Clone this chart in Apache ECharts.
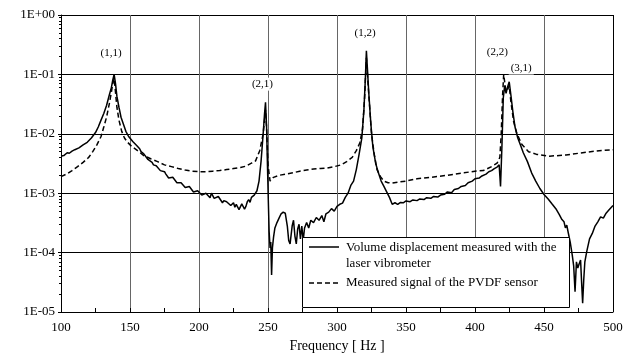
<!DOCTYPE html>
<html>
<head>
<meta charset="utf-8">
<script src="https://cdn.jsdelivr.net/npm/echarts@6/dist/echarts.min.js"></script>
<style>
html,body{margin:0;padding:0;background:#fff;}
#c{width:634px;height:360px;}
</style>
</head>
<body>
<div id="c"></div>
<script>
// ---- data ----
const seriesNames = ['Volume displacement measured with the\nlaser vibrometer', 'Measured signal of the PVDF sensor'];
const xTicks = [100, 150, 200, 250, 300, 350, 400, 450, 500];
const yTickLabels = ['1E-05', '1E-04', '1E-03', '1E-02', '1E-01', '1E+00'];
const xName = 'Frequency [ Hz ]';

const laserFreq = [100,102,103,104.5,106,108,110,113,116,119,122,125,127,129,131,133,135,136.5,137.5,138.5,139.5,140.5,142,143.5,145,147,149,152,155,157,158,160,161,163,164,166,167,169,170,172,173,175,176,178,179,181,182,184,185,187,188,190,191,193,194,196,197,199,200,202,203,205,206,208,209,211,212,214,215,217,218,220,221,223,224,225,226,227,228,229,230,231,232,233,234,235,236,237,238,239,240,241,242,243.5,245,246.5,247.5,248.2,249,249.6,250.2,250.8,251.5,252,252.6,253.2,254,255,256.5,258,259.5,261,262.5,264,265,266,267.5,268.5,269.5,270.5,271.5,272.5,273.5,274.5,275.5,276.5,278,279.5,281,283,285,287,289,290.5,292,294,296,298,300,302,304,306,308,310,312,314,316,318,319.5,320.5,321.3,322,323,324.5,326,328,330,332,334,336,338,340,342,344,346,348,350,353,355,358,360,363,365,368,370,373,375,378,380,383,385,388,390,393,395,398,400,403,405,408,410,412,414,416,417.5,418.5,419.5,420.5,421.5,422.5,423.5,424.8,426,427.5,429,431,433,435,438,441,444,447,450,453,456,459,461,463,464.5,465.5,466.5,467.5,469,470.5,471.5,472.5,473.5,474.5,475.5,476.5,477.3,478,478.8,479.6,481,483,485,487,489,491,493,495,497,500];
const laserVal = [4.2e-3,4.3e-3,4.5e-3,4.8e-3,4.7e-3,5.1e-3,5.4e-3,5.8e-3,6.5e-3,7.2e-3,8.5e-3,1.05e-2,1.3e-2,1.7e-2,2.2e-2,3.0e-2,4.5e-2,6.0e-2,8.0e-2,1.0e-1,7.0e-2,4.3e-2,2.8e-2,1.9e-2,1.5e-2,1.1e-2,9.0e-3,7.4e-3,6.3e-3,5.6e-3,5.0e-3,4.6e-3,4.3e-3,3.7e-3,3.6e-3,3.3e-3,3.0e-3,2.9e-3,2.7e-3,2.4e-3,2.4e-3,2.3e-3,2.1e-3,1.8e-3,1.9e-3,1.85e-3,1.75e-3,1.5e-3,1.55e-3,1.5e-3,1.45e-3,1.25e-3,1.3e-3,1.3e-3,1.25e-3,1.05e-3,1.1e-3,1.1e-3,1.05e-3,9.3e-4,1.0e-3,1.0e-3,9.5e-4,8.4e-4,1.0e-3,8.2e-4,8.5e-4,8.8e-4,8.2e-4,6.9e-4,7.5e-4,7.2e-4,6.8e-4,6.2e-4,6.5e-4,6.9e-4,5.8e-4,6.5e-4,6.2e-4,5.3e-4,5.6e-4,6.6e-4,6.4e-4,5.4e-4,6.0e-4,7.2e-4,7.8e-4,7.0e-4,8.5e-4,8.0e-4,9.3e-4,1.0e-3,1.1e-3,1.6e-3,3.5e-3,1.0e-2,2.2e-2,3.4e-2,1.3e-2,3.0e-3,8.0e-4,2.3e-4,1.2e-4,1.5e-4,4.2e-5,1.2e-4,1.8e-4,2.6e-4,3.2e-4,3.8e-4,4.5e-4,4.8e-4,4.6e-4,2.8e-4,1.6e-4,1.4e-4,2.8e-4,3.5e-4,1.9e-4,1.4e-4,2.5e-4,3.0e-4,1.7e-4,2.8e-4,1.6e-4,2.6e-4,3.2e-4,2.6e-4,3.5e-4,3.2e-4,3.9e-4,3.5e-4,4.2e-4,3.3e-4,4.5e-4,4.8e-4,5.5e-4,5.0e-4,6.0e-4,6.5e-4,6.8e-4,8.5e-4,1.0e-3,1.35e-3,1.6e-3,2.5e-3,4.5e-3,8.5e-3,2.5e-2,8.0e-2,2.5e-1,1.3e-1,5.0e-2,1.5e-2,6.0e-3,3.2e-3,2.2e-3,1.6e-3,1.3e-3,1.05e-3,8.5e-4,6.5e-4,6.9e-4,6.5e-4,7.0e-4,6.9e-4,7.4e-4,7.2e-4,7.7e-4,7.5e-4,8.0e-4,7.8e-4,8.4e-4,8.2e-4,8.8e-4,8.6e-4,9.3e-4,9.6e-4,1.05e-3,1.02e-3,1.15e-3,1.2e-3,1.3e-3,1.35e-3,1.5e-3,1.6e-3,1.75e-3,1.8e-3,1.95e-3,2.1e-3,2.3e-3,2.4e-3,2.6e-3,2.75e-3,3.0e-3,1.3e-3,6.0e-3,4.0e-2,6.5e-2,4.8e-2,6.0e-2,7.5e-2,4.5e-2,2.3e-2,1.3e-2,8.5e-3,6.4e-3,4.8e-3,3.4e-3,2.2e-3,1.6e-3,1.2e-3,9.5e-4,8.0e-4,6.5e-4,5.3e-4,4.4e-4,3.6e-4,3.3e-4,2.6e-4,2.9e-4,2.2e-4,1.5e-4,9.0e-5,6.0e-5,2.2e-5,7.0e-5,5.5e-5,6.5e-5,7.5e-5,3.0e-5,1.4e-5,3.5e-5,7.0e-5,1.05e-4,1.7e-4,2.1e-4,2.8e-4,3.3e-4,4.0e-4,3.8e-4,4.6e-4,5.2e-4,6.2e-4];

const pvdfFreq = [100,104,108,112,116,120,123,126,129,131,133,135,136.5,137.7,138.5,139.5,140.5,142,144,146,148,151,155,160,165,170,175,180,185,190,195,200,205,210,215,220,225,230,234,238,241,244,246.5,248.2,249,250,251.5,254,258,263,268,273,278,283,288,293,298,303,307,311,314,316.5,318.5,320,321.3,322.3,323.5,325,327,329,331.5,334,337,340,345,350,358,368,380,392,400,406,412,416,418,419,420,420.8,422,423.2,424.8,426,428,430.4,434,438.8,444.7,454,466,478,490,500];
const pvdfVal = [1.9e-3,2.1e-3,2.4e-3,2.8e-3,3.3e-3,4.0e-3,5.0e-3,6.5e-3,9.0e-3,1.3e-2,1.9e-2,3.2e-2,5.0e-2,7.5e-2,8.5e-2,5.0e-2,2.8e-2,1.7e-2,1.1e-2,8.5e-3,7.3e-3,6.2e-3,5.3e-3,4.3e-3,3.8e-3,3.4e-3,3.0e-3,2.8e-3,2.6e-3,2.45e-3,2.35e-3,2.3e-3,2.3e-3,2.35e-3,2.4e-3,2.5e-3,2.6e-3,2.7e-3,2.85e-3,3.2e-3,3.5e-3,5.2e-3,1.0e-2,2.5e-2,1.2e-2,3.0e-3,1.6e-3,1.85e-3,2.0e-3,2.1e-3,2.2e-3,2.35e-3,2.45e-3,2.55e-3,2.6e-3,2.65e-3,2.8e-3,3.0e-3,3.4e-3,4.0e-3,5.2e-3,7.0e-3,1.2e-2,4.0e-2,1.9e-1,8.0e-2,3.2e-2,1.0e-2,4.5e-3,2.5e-3,1.9e-3,1.6e-3,1.5e-3,1.48e-3,1.55e-3,1.6e-3,1.75e-3,1.85e-3,2.0e-3,2.2e-3,2.35e-3,2.4e-3,2.8e-3,3.2e-3,4.0e-3,1.0e-2,4.5e-2,1.0e-1,6.0e-2,5.2e-2,6.5e-2,3.5e-2,1.6e-2,1.0e-2,6.6e-3,5.0e-3,4.5e-3,4.2e-3,4.4e-3,4.8e-3,5.2e-3,5.4e-3];

// mode annotations: text, frequency, level (where the text sits)
const modeText = ['(1,1)', '(2,1)', '(1,2)', '(2,2)', '(3,1)'];
const modeFreq = [136.3, 246, 320.3, 416.2, 433.5];
const modeLevel = [0.23, 0.0686, 0.50, 0.24, 0.128];

// ---- chart ----
const FONT = '"Liberation Serif", "Times New Roman", serif';
const chart = echarts.init(document.getElementById('c'));

const laserData = laserFreq.map((f, i) => [f, laserVal[i]]);
const pvdfData = pvdfFreq.map((f, i) => [f, pvdfVal[i]]);

const yLabel = v => {
  const e = Math.round(Math.log10(v));
  return yTickLabels[e + 5] || '';
};

chart.setOption({
  animation: false,
  backgroundColor: '#fff',
  grid: { left: 61, right: 21, top: 15, bottom: 48, containLabel: false },
  xAxis: {
    type: 'value', min: xTicks[0], max: xTicks[xTicks.length - 1], interval: 50,
    name: xName, nameLocation: 'middle', nameGap: 26,
    nameTextStyle: { fontFamily: FONT, fontSize: 14, color: '#000' },
    axisLine: { show: true, lineStyle: { color: '#000', width: 1 } },
    axisTick: { show: true, inside: true, length: 4, lineStyle: { color: '#000' } },
    minorTick: { show: true, splitNumber: 2, length: 4, lineStyle: { color: '#000' } },
    axisLabel: { fontFamily: FONT, fontSize: 13, color: '#000', margin: 9 },
    splitLine: { show: true, lineStyle: { color: ['#000', '#666', '#666', '#666', '#666', '#666', '#666', '#666', '#000'], width: 1 } }
  },
  yAxis: {
    type: 'log', logBase: 10, min: 1e-5, max: 1,
    axisLine: { show: true, lineStyle: { color: '#000', width: 1 } },
    axisTick: { show: true, length: 3, lineStyle: { color: '#000' } },
    minorTick: { show: true, length: 2, splitNumber: 9, lineStyle: { color: '#000' } },
    axisLabel: { fontFamily: FONT, fontSize: 13, color: '#000', margin: 6, formatter: yLabel },
    splitLine: { show: true, lineStyle: { color: '#000', width: 1 } }
  },
  series: [
    {
      name: seriesNames[1], type: 'line', data: pvdfData, showSymbol: false, symbol: 'none',
      lineStyle: { color: '#000', width: 1.5, type: [5, 3] }, z: 2
    },
    {
      name: seriesNames[0], type: 'line', data: laserData, showSymbol: false, symbol: 'none',
      lineStyle: { color: '#000', width: 1.5 }, z: 3,
      markPoint: {
        symbol: 'circle', symbolSize: 0, silent: true,
        label: {
          show: true, position: 'inside', formatter: p => p.name,
          fontFamily: FONT, fontSize: 11, color: '#000',
          backgroundColor: '#fff', padding: [1, 2]
        },
        data: modeText.map((t, i) => ({ name: t, coord: [modeFreq[i], modeLevel[i]] }))
      }
    }
  ],
  graphic: [
    { type: 'rect', z: 100, shape: { x: 302.5, y: 237.5, width: 267, height: 70 },
      style: { fill: '#fff', stroke: '#000', lineWidth: 1 } },
    { type: 'line', z: 101, shape: { x1: 309, y1: 247, x2: 339, y2: 247 }, style: { stroke: '#000', lineWidth: 1.5 } },
    { type: 'text', z: 101, x: 346, y: 240, style: { text: seriesNames[0], font: '13px ' + FONT, fill: '#000', lineHeight: 16 } },
    { type: 'line', z: 101, shape: { x1: 309, y1: 283, x2: 339, y2: 283 }, style: { stroke: '#000', lineWidth: 1.5, lineDash: [5, 3] } },
    { type: 'text', z: 101, x: 346, y: 276, style: { text: seriesNames[1], font: '13px ' + FONT, fill: '#000' } }
  ]
});
</script>
</body>
</html>
